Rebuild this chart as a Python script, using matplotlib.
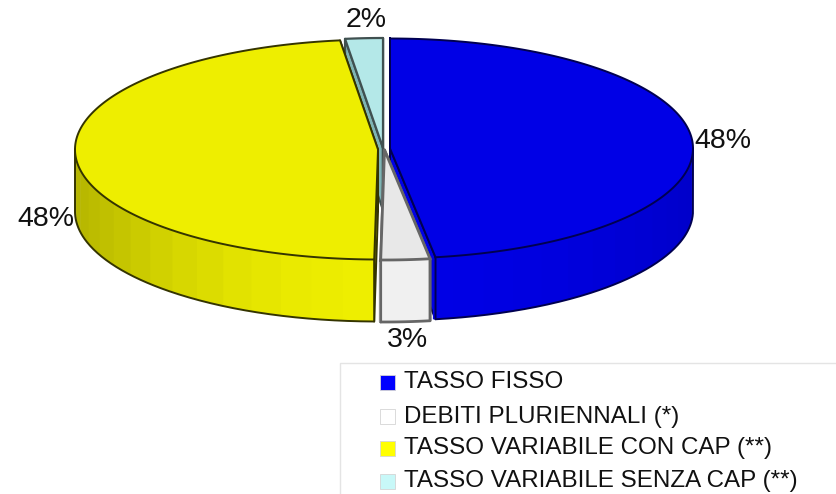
import numpy as np
import matplotlib
matplotlib.use("Agg")
import matplotlib.pyplot as plt
from matplotlib.colors import to_rgb
from matplotlib.patches import Polygon, Rectangle

plt.rcParams["font.family"] = ["Liberation Sans", "DejaVu Sans"]

# valori stimati dal grafico (le etichette sono arrotondate: 48, 3, 48, 2)
labels = ["TASSO FISSO", "DEBITI PLURIENNALI (*)",
          "TASSO VARIABILE CON CAP (**)", "TASSO VARIABILE SENZA CAP (**)"]
values = [47.6, 2.6, 47.8, 2.0]

top_colors = ["#0000e6", "#e8e8e8", "#eeee00", "#b4e8e8"]
wall_colors = ["#0000e6", "#f0f0f0", "#eeee00", "#7fb4b4"]
edge_colors = ["#000050", "#666666", "#343400", "#405050"]
edge_widths = [1.4, 2.0, 1.4, 1.6]
wall_dark = [0.12, 0.0, 0.24, 0.0]
legend_colors = ["#0000ff", "#ffffff", "#ffff00", "#c8f8f8"]

centers = [(390, 148.5), (384.5, 150), (378, 149.5), (383, 148)]
label_pos = [(723, 141), (407, 340), (46, 219), (366, 20)]
legend_y = [382, 417, 448, 481]
legend_mark_y = [382, 416, 448, 481]

RX, RY, DEPTH = 303, 110, 62
draw_order = [3, 0, 2, 1]


def rim(cx, cy, t0, t1, dy=0):
    t = np.radians(np.linspace(t0, t1, max(int(abs(t1 - t0)) * 2, 2)))
    return np.column_stack([cx + RX * np.sin(t), cy - RY * np.cos(t) + dy])


fig = plt.figure(figsize=(8.36, 4.94), dpi=100)
ax = fig.add_axes([0, 0, 1, 1])
ax.set_xlim(0, 836)
ax.set_ylim(494, 0)
ax.axis("off")

edges = np.cumsum([0] + values) / sum(values) * 360

for i in draw_order:
    cx, cy = centers[i]
    t0, t1 = edges[i], edges[i + 1]
    fc, ec, lw = top_colors[i], edge_colors[i], edge_widths[i]

    # facce di taglio
    for t in (t0, t1):
        p = rim(cx, cy, t, t + 0.01)[0]
        face = [(cx, cy), p, (p[0], p[1] + DEPTH), (cx, cy + DEPTH)]
        ax.add_patch(Polygon(face, fc=wall_colors[i], ec=ec, lw=lw, joinstyle="round"))

    # parete esterna a bande, solo la parte davanti
    a, b = max(t0, 90), min(t1, 270)
    if b > a:
        steps = np.append(np.arange(a, b, 6), b)
        for s0, s1 in zip(steps[:-1], steps[1:]):
            upper = rim(cx, cy, s0, s1 + 0.5)
            lower = rim(cx, cy, s1 + 0.5, s0, DEPTH)
            shade = 1 - wall_dark[i] * abs(np.sin(np.radians((s0 + s1) / 2))) ** 2
            col = tuple(c * shade for c in to_rgb(wall_colors[i]))
            ax.add_patch(Polygon(np.vstack([upper, lower]), fc=col, ec="none"))
        outline = np.vstack([rim(cx, cy, a, a + 0.01), rim(cx, cy, a, b, DEPTH),
                             rim(cx, cy, b, b + 0.01)])
        ax.plot(outline[:, 0], outline[:, 1], color=ec, lw=lw)

    # faccia superiore
    arc = rim(cx, cy, t0, t1)
    ax.add_patch(Polygon(np.vstack([[(cx, cy)], arc]), fc=fc, ec=ec, lw=lw,
                         joinstyle="round"))

for v, (x, y) in zip(values, label_pos):
    ax.text(x, y, f"{v:.0f}%", fontsize=20.5, ha="center", va="center", color="#111111")

# legenda
ax.plot([836, 340, 340], [363, 363, 494], color="#e4e4e4", lw=1)
for name, col, ym, yt in zip(labels, legend_colors, legend_mark_y, legend_y):
    ax.add_patch(Rectangle((380, ym - 7.5), 15, 15, fc=col, ec="#d4d4d4", lw=0.6))
    ax.text(404, yt, name, fontsize=17.4, ha="left", va="center", color="#111111")

fig.savefig("out.png", dpi=100)
